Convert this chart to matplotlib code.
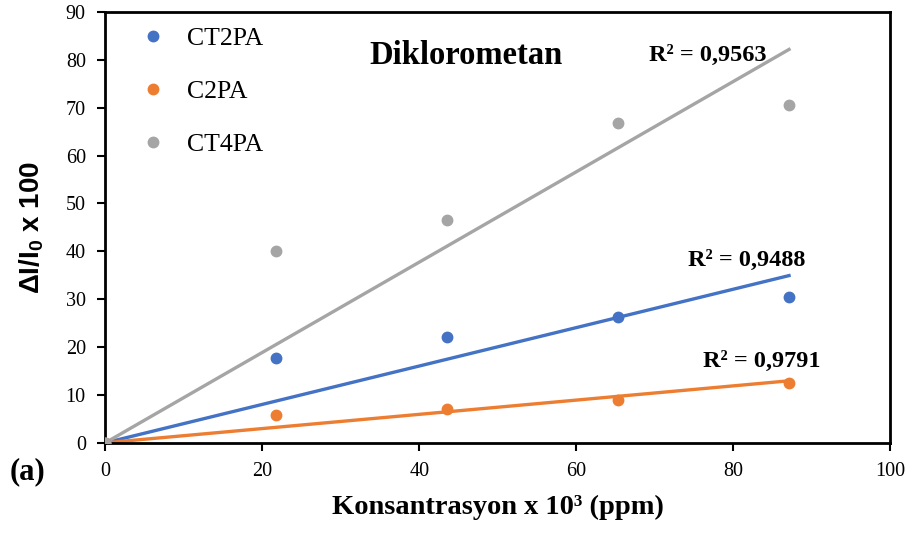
import numpy as np
import matplotlib
matplotlib.use("Agg")
import matplotlib.pyplot as plt

plt.rcParams['font.family'] = ['Liberation Serif', 'DejaVu Serif']
plt.rcParams['mathtext.fontset'] = 'custom'
plt.rcParams['mathtext.rm'] = 'Liberation Sans'
plt.rcParams['mathtext.bf'] = 'Liberation Sans:bold'

# Datos
konsantrasyon = np.array([0, 21.7, 43.5, 65.3, 87.1])
ct2pa = np.array([0, 17.7, 22.0, 26.2, 30.4])
c2pa = np.array([0, 5.9, 7.1, 9.0, 12.5])
ct4pa = np.array([0, 40.1, 46.6, 66.8, 70.6])

series = ["CT2PA", "C2PA", "CT4PA"]
renkler = ["#4472C4", "#ED7D31", "#A5A5A5"]
r2_texts = ["R² = 0,9488", "R² = 0,9791", "R² = 0,9563"]

fig = plt.figure(figsize=(9.15, 5.42), dpi=100)
ax = fig.add_axes([0.115, 0.183, 0.858, 0.795])

for y, name, c in zip([ct2pa, c2pa, ct4pa], series, renkler):
    ax.plot(konsantrasyon, y, 'o', color=c, markersize=7.5, label=name, zorder=3)
    # linea de tendencia por el origen
    m = np.sum(konsantrasyon * y) / np.sum(konsantrasyon ** 2)
    xs = np.array([0, konsantrasyon[-1]])
    ax.plot(xs, m * xs, '-', color=c, linewidth=2.4, zorder=2)

ax.text(45.9, 81.0, "Diklorometan", fontsize=23.5, fontweight='bold', ha='center', va='center')
ax.text(76.7, 81.0, r2_texts[2], fontsize=17.5, fontweight='bold', ha='center', va='center')
ax.text(81.7, 38.0, r2_texts[0], fontsize=17.5, fontweight='bold', ha='center', va='center')
ax.text(83.6, 17.0, r2_texts[1], fontsize=17.5, fontweight='bold', ha='center', va='center')

ax.set_xlim(0, 100)
ax.set_ylim(0, 90)
ax.set_xticks(np.arange(0, 101, 20))
ax.set_yticks(np.arange(0, 91, 10))
ax.tick_params(axis='both', direction='out', length=6, width=1.5, labelsize=14.5, pad=8)
for s in ax.spines.values():
    s.set_linewidth(2)

ax.set_xlabel("Konsantrasyon x 10³ (ppm)", fontsize=20.5, fontweight='bold', labelpad=10)
ax.set_ylabel(r"$\mathbf{\Delta I/I_0}$ x 100", fontsize=20, fontweight='bold',
              family='Liberation Sans', labelpad=14)
fig.text(0.030, 0.130, "(a)", fontsize=22, fontweight='bold', ha='center', va='center')

ax.legend(loc='upper left', bbox_to_anchor=(0.008, 1.0), frameon=False, fontsize=18.5,
          labelspacing=1.17, handletextpad=0.35, borderaxespad=0.2, borderpad=0.4)

plt.savefig("out.png", dpi=100)
